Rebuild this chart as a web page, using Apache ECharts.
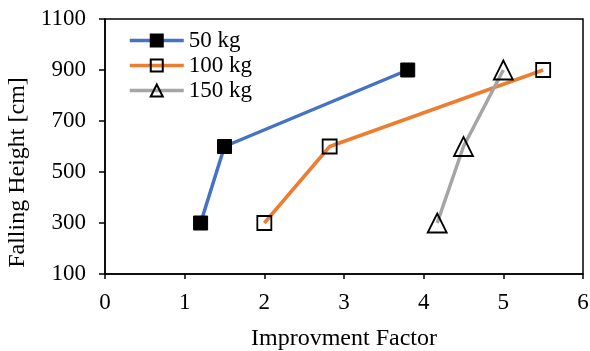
<!DOCTYPE html>
<html>
<head>
<meta charset="utf-8">
<script src="https://cdn.jsdelivr.net/npm/echarts@6/dist/echarts.min.js"></script>
<style>
  html, body { margin: 0; padding: 0; background: #fff; }
  #chart { width: 590px; height: 351px; }
</style>
</head>
<body>
<div id="chart"></div>
<script>
// Falling height vs. improvement factor for three impact masses
const seriesNames = ['50 kg', '100 kg', '150 kg'];
const fallingHeights = [300, 600, 900];
const factor50 = [1.2, 1.5, 3.8];
const factor100 = [2.0, 2.82, 5.5];
const factor150 = [4.17, 4.5, 5.0];
const xTicks = { min: 0, max: 6, step: 1 };
const yTicks = { min: 100, max: 1100, step: 200 };

const serif = '"Liberation Serif", "Times New Roman", serif';

function pairs(xs, ys) {
  return xs.map((x, i) => [x, ys[i]]);
}

const chart = echarts.init(document.getElementById('chart'), null, { renderer: 'canvas' });

chart.setOption({
  animation: false,
  backgroundColor: '#fff',
  textStyle: { fontFamily: serif, color: '#000' },
  grid: {
    left: 105, right: 7, top: 19, bottom: 77,
    containLabel: false, outerBoundsMode: 'none',
    show: true, borderColor: '#000', borderWidth: 1.5
  },
  legend: {
    orient: 'vertical',
    left: 128, top: 29, padding: 0,
    itemWidth: 54, itemHeight: 15, itemGap: 2,
    lineStyle: { width: 3.5 },
    textStyle: { fontFamily: serif, fontSize: 23, color: '#000' },
    data: seriesNames
  },
  xAxis: {
    type: 'value',
    min: xTicks.min, max: xTicks.max, interval: xTicks.step,
    name: 'Improvment Factor',
    nameLocation: 'middle', nameGap: 53,
    nameTextStyle: { fontFamily: serif, fontSize: 24, color: '#000' },
    axisLine: { show: true, lineStyle: { color: '#000', width: 1.5 } },
    axisTick: { show: true, inside: false, length: 5, lineStyle: { color: '#000', width: 1.5 } },
    axisLabel: { fontFamily: serif, fontSize: 23, color: '#000', margin: 17 },
    splitLine: { show: false }
  },
  yAxis: {
    type: 'value',
    min: yTicks.min, max: yTicks.max, interval: yTicks.step,
    name: 'Falling Height [cm]',
    nameLocation: 'middle', nameGap: 70, nameRotate: 90,
    nameTextStyle: { fontFamily: serif, fontSize: 24, color: '#000', padding: [0, 52, 0, 0] },
    axisLine: { show: true, lineStyle: { color: '#000', width: 1.5 } },
    axisTick: { show: true, inside: false, length: 6, lineStyle: { color: '#000', width: 1.5 } },
    axisLabel: {
      fontFamily: serif, fontSize: 23, color: '#000', margin: 19,
      formatter: (v) => String(v)
    },
    splitLine: { show: false }
  },
  series: [
    {
      name: seriesNames[0], type: 'line',
      data: pairs(factor50, fallingHeights),
      symbol: 'rect', symbolSize: 14,
      lineStyle: { color: '#4472C4', width: 3.5 },
      itemStyle: { color: '#000', borderColor: '#000', borderWidth: 1 }
    },
    {
      name: seriesNames[1], type: 'line',
      data: pairs(factor100, fallingHeights),
      symbol: 'rect', symbolSize: 14,
      lineStyle: { color: '#ED7D31', width: 3.5 },
      itemStyle: { color: 'rgba(255,255,255,0)', borderColor: '#000', borderWidth: 1.8 }
    },
    {
      name: seriesNames[2], type: 'line',
      data: pairs(factor150, fallingHeights),
      symbol: 'triangle', symbolSize: 19,
      lineStyle: { color: '#A5A5A5', width: 3.5 },
      itemStyle: { color: 'rgba(255,255,255,0)', borderColor: '#000', borderWidth: 1.8 }
    }
  ]
});
</script>
</body>
</html>
